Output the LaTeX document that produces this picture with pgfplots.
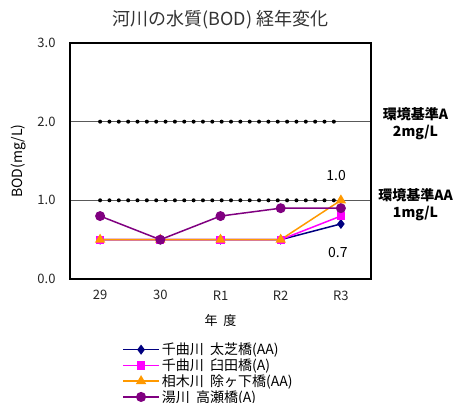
\documentclass[border=0pt]{standalone}
\usepackage{fontspec}
\setmainfont{Noto Sans CJK JP}
\usepackage{pgfplots}
\pgfplotsset{compat=1.18}

\definecolor{cNavy}{RGB}{0,0,128}
\definecolor{cMag}{RGB}{255,0,255}
\definecolor{cOrange}{RGB}{255,153,0}
\definecolor{cPurple}{RGB}{128,0,128}

\begin{document}
\begin{tikzpicture}
\useasboundingbox (-70pt,-124pt) rectangle (389pt,279pt);
\begin{axis}[
    at={(0pt,0pt)}, anchor=south west,
    scale only axis,
    width=301pt, height=236pt,
    xmin=-0.5, xmax=4.5,
    ymin=0, ymax=3,
    xtick={0,1,2,3,4},
    xticklabels={29,30,R1,R2,R3},
    ytick={0,1,2,3},
    yticklabel style={xshift=-11pt, /pgf/number format/.cd,fixed,fixed zerofill,precision=1},
    /pgf/number format/assume math mode=true,
    tick label style={font=\fontsize{13}{14}\selectfont, text=black!85},
    xticklabel style={yshift=-8pt},
    major tick length=0pt,
    ymajorgrids,
    grid style={black!65, line width=0.6pt},
    axis line style={line width=1.5pt, black},
    title={河川の水質(BOD) 経年変化},
    title style={font=\fontsize{18}{19}\selectfont, text=black!80, yshift=4pt},
    xlabel={年\ \ 度},
    xlabel style={font=\fontsize{13}{14}\selectfont, yshift=-7pt},
    ylabel={BOD(mg/L)},
    ylabel style={font=\fontsize{14}{15}\selectfont, yshift=5pt},
    legend style={at={(0.173,-0.262)}, anchor=north west, draw=none, fill=none,
        font=\fontsize{14}{15}\selectfont, row sep=-1.5pt, inner sep=0pt},
    legend cell align=left,
    legend image code/.code={
        \draw[mark repeat=2, mark phase=2, #1, line width=1.6pt] plot coordinates {(0pt,0pt) (18pt,0pt) (36pt,0pt)};
    },
    clip=false,
]
% reference lines (環境基準)
\addplot[black, line width=4pt, line cap=round, dash pattern=on 0pt off 9.35pt, forget plot]
    coordinates {(0,2.0) (4,2.0)};
\addplot[black, line width=4pt, line cap=round, dash pattern=on 0pt off 9.35pt, forget plot]
    coordinates {(0,1.0) (4,1.0)};

\addplot[color=cNavy, line width=1.5pt, mark=diamond*, mark size=3.8pt]
    coordinates {(0,0.5) (1,0.5) (2,0.5) (3,0.5) (4,0.7)};
\addlegendentry{千曲川\ \ 太芝橋(AA)}
\addplot[color=cMag, line width=1.5pt, mark=square*, mark size=3.3pt]
    coordinates {(0,0.5) (1,0.5) (2,0.5) (3,0.5) (4,0.8)};
\addlegendentry{千曲川\ \ 臼田橋(A)}
\addplot[color=cOrange, line width=1.5pt, mark=triangle*, mark size=4.5pt]
    coordinates {(0,0.5) (1,0.5) (2,0.5) (3,0.5) (4,1.0)};
\addlegendentry{相木川\ \ 除ヶ下橋(AA)}
\addplot[color=cPurple, line width=1.5pt, mark=*, mark size=4.2pt]
    coordinates {(0,0.8) (1,0.5) (2,0.8) (3,0.9) (4,0.9)};
\addlegendentry{湯川\ \ 高瀬橋(A)}

\node[font=\fontsize{14}{15}\selectfont] at (axis cs:3.92,1.31) {1.0};
\node[font=\fontsize{14}{15}\selectfont] at (axis cs:3.95,0.34) {0.7};
\node[font=\fontsize{14}{17}\selectfont\bfseries, align=center] at (rel axis cs:1.148,0.66) {環境基準A\\2mg/L};
\node[font=\fontsize{14}{17}\selectfont\bfseries, align=center] at (rel axis cs:1.148,0.315) {環境基準AA\\1mg/L};
\end{axis}
\end{tikzpicture}
\end{document}
